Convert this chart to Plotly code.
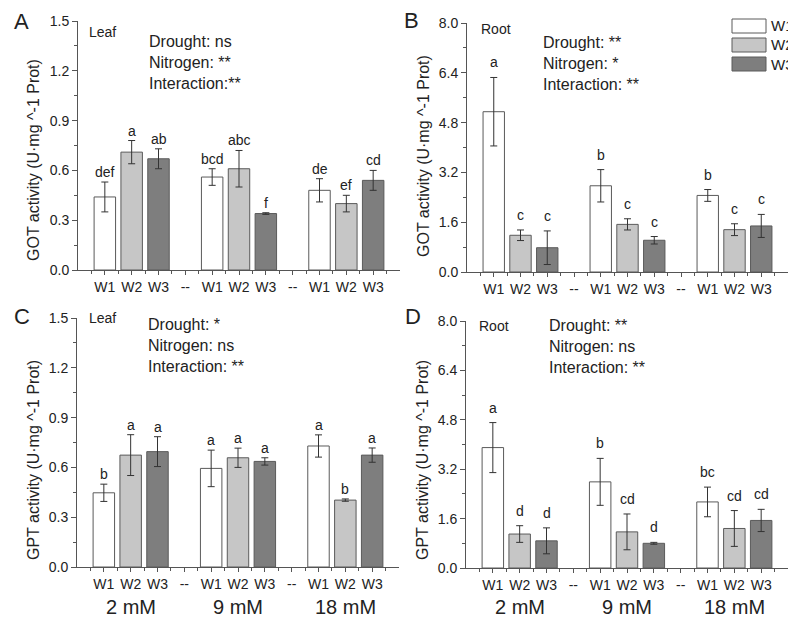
import plotly.graph_objects as go

# ---------------- data ----------------
water_levels = ["W1", "W2", "W3"]
nitrogen_levels = ["2 mM", "9 mM", "18 mM"]
tick_labels = ["W1", "W2", "W3", "--", "W1", "W2", "W3", "--", "W1", "W2", "W3"]

# Panel A: GOT activity, leaf
got_leaf_mean = {"W1": [0.44, 0.56, 0.48], "W2": [0.71, 0.61, 0.40], "W3": [0.67, 0.34, 0.54]}
got_leaf_err = {"W1": [0.09, 0.05, 0.07], "W2": [0.07, 0.11, 0.05], "W3": [0.06, 0.005, 0.06]}
got_leaf_letters = {"W1": ["def", "bcd", "de"], "W2": ["a", "abc", "ef"], "W3": ["ab", "f", "cd"]}

# Panel B: GOT activity, root
got_root_mean = {"W1": [5.15, 2.77, 2.46], "W2": [1.18, 1.53, 1.36], "W3": [0.78, 1.02, 1.48]}
got_root_err = {"W1": [1.10, 0.52, 0.19], "W2": [0.17, 0.18, 0.19], "W3": [0.54, 0.12, 0.37]}
got_root_letters = {"W1": ["a", "b", "b"], "W2": ["c", "c", "c"], "W3": ["c", "c", "c"]}

# Panel C: GPT activity, leaf
gpt_leaf_mean = {"W1": [0.447, 0.594, 0.729], "W2": [0.674, 0.658, 0.403], "W3": [0.695, 0.636, 0.674]}
gpt_leaf_err = {"W1": [0.052, 0.11, 0.067], "W2": [0.123, 0.058, 0.007], "W3": [0.09, 0.022, 0.043]}
gpt_leaf_letters = {"W1": ["b", "a", "a"], "W2": ["a", "a", "b"], "W3": ["a", "a", "a"]}

# Panel D: GPT activity, root
gpt_root_mean = {"W1": [3.90, 2.79, 2.14], "W2": [1.10, 1.17, 1.28], "W3": [0.88, 0.80, 1.54]}
gpt_root_err = {"W1": [0.81, 0.76, 0.48], "W2": [0.27, 0.58, 0.58], "W3": [0.42, 0.03, 0.36]}
gpt_root_letters = {"W1": ["a", "b", "bc"], "W2": ["d", "cd", "cd"], "W3": ["d", "d", "cd"]}

stats_A = ["Drought: ns", "Nitrogen: **", "Interaction:**"]
stats_B = ["Drought: **", "Nitrogen: *", "Interaction: **"]
stats_C = ["Drought: *", "Nitrogen: ns", "Interaction: **"]
stats_D = ["Drought: **", "Nitrogen: ns", "Interaction: **"]

# ---------------- styling / layout ----------------
W, H = 788, 621
FONT = "Liberation Sans, Arial, sans-serif"
TXT = "#222222"
AX = "#555555"
fills = {"W1": "#ffffff", "W2": "#c6c6c6", "W3": "#7e7e7e"}
edge = "#5a5a5a"


def fx(px):
    return px / W


def fy(py):
    return 1 - py / H


panels = [
    dict(key="A", mean=got_leaf_mean, err=got_leaf_err, letters=got_leaf_letters, stats=stats_A,
         xpx=(78, 400), ypx=(21, 270), yr=1.5, dt=0.3, tissue="Leaf",
         title="GOT activity (U·mg ^-1 Prot)", title_xy=(33, 160), tissue_xy=(87, 32),
         stats_xy=(147, 42), letter_xy=(12, 21), gap=2, group_labels=False),
    dict(key="B", mean=got_root_mean, err=got_root_err, letters=got_root_letters, stats=stats_B,
         xpx=(467, 788), ypx=(23, 272), yr=8.0, dt=1.6, tissue="Root",
         title="GOT activity (U·mg ^-1 Prot)", title_xy=(423, 156), tissue_xy=(479, 29),
         stats_xy=(541, 43), letter_xy=(402, 20), gap=7, group_labels=False),
    dict(key="C", mean=gpt_leaf_mean, err=gpt_leaf_err, letters=gpt_leaf_letters, stats=stats_C,
         xpx=(77, 399), ypx=(318, 567), yr=1.5, dt=0.3, tissue="Leaf",
         title="GPT activity (U·mg ^-1 Prot)", title_xy=(33, 460), tissue_xy=(87, 318),
         stats_xy=(146, 325), letter_xy=(12, 316), gap=2, group_labels=True),
    dict(key="D", mean=gpt_root_mean, err=gpt_root_err, letters=gpt_root_letters, stats=stats_D,
         xpx=(466, 788), ypx=(321, 568), yr=8.0, dt=1.6, tissue="Root",
         title="GPT activity (U·mg ^-1 Prot)", title_xy=(422, 460), tissue_xy=(477, 326),
         stats_xy=(547, 326), letter_xy=(403, 316), gap=7, group_labels=True),
]

fig = go.Figure()
annotations = []
shapes = []
layout = dict(
    width=W, height=H,
    margin=dict(l=0, r=0, t=0, b=0, autoexpand=False),
    paper_bgcolor="white", plot_bgcolor="white",
    barmode="overlay", showlegend=False,
    font=dict(family=FONT, color=TXT, size=14),
)

group_size = len(water_levels) + 1
tick_positions = list(range(len(tick_labels)))

for i, p in enumerate(panels):
    n = "" if i == 0 else str(i + 1)
    xa, ya = "x" + n, "y" + n
    xname, yname = "xaxis" + n, "yaxis" + n

    for wi, w in enumerate(water_levels):
        xs = [g * group_size + wi for g in range(len(nitrogen_levels))]
        fig.add_trace(go.Bar(
            x=xs, y=p["mean"][w], width=0.8, name=w,
            marker=dict(color=fills[w], line=dict(color=edge, width=1)),
            error_y=dict(type="data", array=p["err"][w], visible=True,
                         color="#333333", thickness=1, width=3.5),
            xaxis=xa, yaxis=ya, showlegend=False,
        ))
        for g in range(len(nitrogen_levels)):
            annotations.append(dict(
                x=xs[g], y=p["mean"][w][g] + p["err"][w][g], xref=xa, yref=ya,
                text=p["letters"][w][g], showarrow=False, xanchor="center",
                yanchor="bottom", yshift=p["gap"] - 2, font=dict(size=14, color=TXT),
            ))

    layout[xname] = dict(
        domain=[fx(p["xpx"][0]), fx(p["xpx"][1])], anchor=ya,
        range=[-1, len(tick_labels)], tickmode="array",
        tickvals=tick_positions, ticktext=tick_labels,
        showline=True, linecolor=AX, linewidth=1, ticks="outside",
        ticklen=4, tickcolor=AX, showgrid=False, zeroline=False,
        tickfont=dict(size=14, color=TXT),
        minor=dict(tickmode="linear", tick0=-0.5, dtick=1, ticks="outside",
                   ticklen=3, tickcolor=AX),
    )
    layout[yname] = dict(
        domain=[fy(p["ypx"][1]), fy(p["ypx"][0])], anchor=xa,
        range=[0, p["yr"]], tickmode="linear", tick0=0, dtick=p["dt"],
        tickformat=".1f", showline=True, linecolor=AX, linewidth=1,
        ticks="outside", ticklen=5, tickcolor=AX, showgrid=False,
        zeroline=False, tickfont=dict(size=14, color=TXT),
        minor=dict(dtick=p["dt"] / 2, ticks="outside", ticklen=3, tickcolor=AX),
    )

    # y-axis title
    annotations.append(dict(
        x=fx(p["title_xy"][0]), y=fy(p["title_xy"][1]), xref="paper", yref="paper",
        text=p["title"], textangle=-90, showarrow=False,
        xanchor="center", yanchor="middle", font=dict(size=16, color=TXT),
    ))
    # panel letter
    annotations.append(dict(
        x=fx(p["letter_xy"][0]), y=fy(p["letter_xy"][1]), xref="paper", yref="paper",
        text=p["key"], showarrow=False, xanchor="left", yanchor="middle",
        font=dict(size=22, color=TXT),
    ))
    # tissue
    annotations.append(dict(
        x=fx(p["tissue_xy"][0]), y=fy(p["tissue_xy"][1]), xref="paper", yref="paper",
        text=p["tissue"], showarrow=False, xanchor="left", yanchor="middle",
        font=dict(size=14, color=TXT),
    ))
    # statistics
    annotations.append(dict(
        x=fx(p["stats_xy"][0]), y=fy(p["stats_xy"][1] - 11), xref="paper", yref="paper",
        text="<br>".join(p["stats"]), showarrow=False, xanchor="left", yanchor="top",
        align="left", font=dict(size=16, color=TXT),
    ))
    # nitrogen group labels
    if p["group_labels"]:
        for g, lab in enumerate(nitrogen_levels):
            annotations.append(dict(
                x=g * group_size + 1, y=fy(607), xref=xa, yref="paper",
                text=lab, showarrow=False, xanchor="center", yanchor="middle",
                font=dict(size=20, color=TXT),
            ))

# manual legend (panel B)
for wi, w in enumerate(water_levels):
    top = 19 + wi * 19
    shapes.append(dict(
        type="rect", xref="paper", yref="paper",
        x0=fx(732), x1=fx(766), y0=fy(top + 14), y1=fy(top),
        fillcolor=fills[w], line=dict(color=edge, width=1),
    ))
    annotations.append(dict(
        x=fx(769), y=fy(top + 7), xref="paper", yref="paper", text=w,
        showarrow=False, xanchor="left", yanchor="middle",
        font=dict(size=15, color=TXT),
    ))

layout["annotations"] = annotations
layout["shapes"] = shapes
fig.update_layout(**layout)
fig.write_html("out.html")
